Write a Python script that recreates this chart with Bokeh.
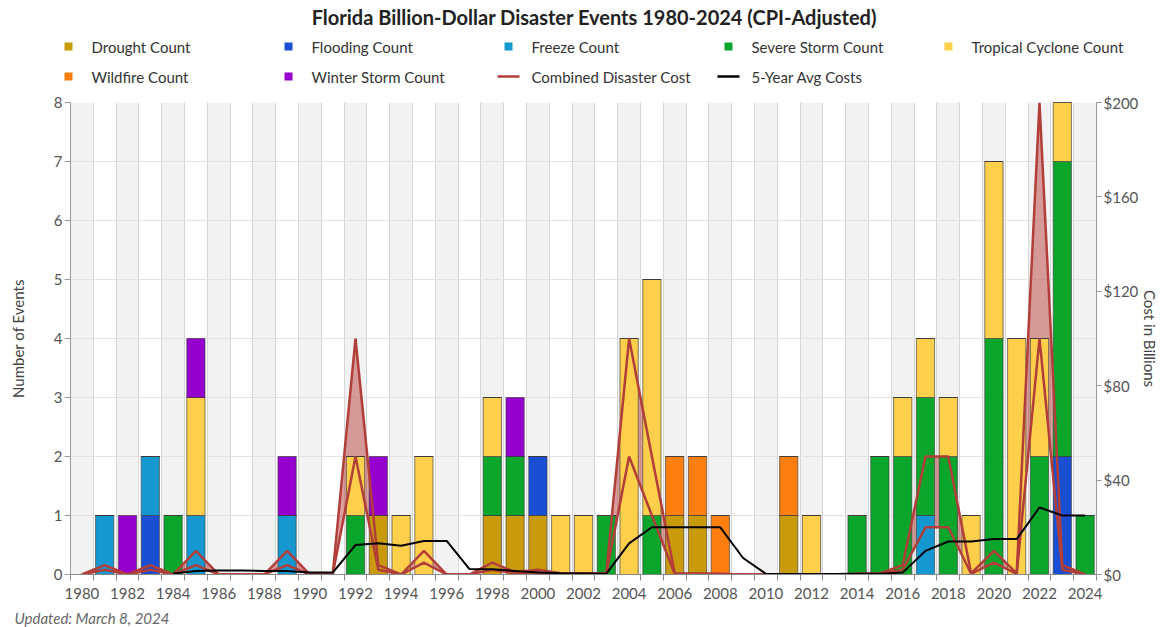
from bokeh.plotting import figure
from bokeh.layouts import column
from bokeh.models import (ColumnDataSource, FixedTicker, LinearAxis, Range1d,
                          PrintfTickFormatter)
from bokeh.core.properties import value
from bokeh.embed import file_html
from bokeh.resources import INLINE

years = list(range(1980, 2025))

drought  = [0,0,0,0,0,0,0,0,0,0, 0,0,0,1,0,0,0,0,1,1, 1,0,0,0,0,0,1,1,0,0, 0,1,0,0,0,0,0,0,0,0, 0,0,0,0,0]
flooding = [0,0,0,1,0,0,0,0,0,0, 0,0,0,0,0,0,0,0,0,0, 1,0,0,0,0,0,0,0,0,0, 0,0,0,0,0,0,0,0,0,0, 0,0,0,2,0]
freeze   = [0,1,0,1,0,1,0,0,0,1, 0,0,0,0,0,0,0,0,0,0, 0,0,0,0,0,0,0,0,0,0, 0,0,0,0,0,0,0,1,0,0, 0,0,0,0,0]
severe   = [0,0,0,0,1,0,0,0,0,0, 0,0,1,0,0,0,0,0,1,1, 0,0,0,1,0,1,0,0,0,0, 0,0,0,0,1,2,2,2,2,0, 4,0,2,5,1]
tropical = [0,0,0,0,0,2,0,0,0,0, 0,0,1,0,1,2,0,0,1,0, 0,1,1,0,4,4,0,0,0,0, 0,0,1,0,0,0,1,1,1,1, 3,4,2,1,0]
wildfire = [0,0,0,0,0,0,0,0,0,0, 0,0,0,0,0,0,0,0,0,0, 0,0,0,0,0,0,1,1,1,0, 0,1,0,0,0,0,0,0,0,0, 0,0,0,0,0]
winter   = [0,0,1,0,0,1,0,0,0,1, 0,0,0,1,0,0,0,0,0,1, 0,0,0,0,0,0,0,0,0,0, 0,0,0,0,0,0,0,0,0,0, 0,0,0,0,0]

# Combined disaster cost range (billions, CPI-adjusted): lower and upper lines
cost_low  = [0,2,0,2,0,4,0,0,0,4, 0,0,50,2,0,5,0,0,2,0.5, 1,0.3,0.3,0.3,50,25,0.3,0.2,0.2,0, 0,0,0,0,0.2,0.3,2,20,20,0.3, 5,0.3,100,2,0]
cost_high = [0,4,0,4,0,10,0,0,0,10, 0,0,100,4,0,10,0,0,5,1, 2,0.5,0.5,0.5,100,50,0.5,0.4,0.3,0, 0,0,0,0,0.3,0.5,4,50,50,0.5, 10,0.5,200,4,0]
# 5-year average costs (billions)
avg_cost  = [None,None,None,None,0.4,1.5,1.7,1.7,1.5,1.5, 0.8,0.8,12.5,13.2,12.2,14.2,14.2,2.3,2.2,1.5, 0.8,0.5,0.4,0.3,13.2,20,20,20,20,7, 0.3,0.2,0.2,0.2,0.3,0.3,0.8,10,14,14, 15,15,28.4,25,25]

series = ["Drought", "Flooding", "Freeze", "Severe Storm", "Tropical Cyclone", "Wildfire", "Winter Storm"]
colors = ["#c99a0c", "#1a4fd3", "#1597cf", "#0aa52b", "#fecf4a", "#fd7f10", "#9500cf"]
line_names = ["Combined Disaster Cost", "5-Year Avg Costs"]
line_colors = ["#b23e3a", "#000000"]

title_text = "Florida Billion-Dollar Disaster Events 1980-2024 (CPI-Adjusted)"
footnote_text = "Updated: March 8, 2024"
y_title = "Number of Events"
y2_title = "Cost in Billions"

FONT = "Lato"
W = 1163

src = ColumnDataSource(dict(
    year=years,
    Drought=drought, Flooding=flooding, Freeze=freeze,
    **{"Severe Storm": severe, "Tropical Cyclone": tropical},
    Wildfire=wildfire, **{"Winter Storm": winter},
    low=cost_low, high=cost_high,
    avg=[float("nan") if v is None else v for v in avg_cost],
))


def blank(h):
    f = figure(width=W, height=h, output_backend="svg", toolbar_location=None,
               x_range=Range1d(0, W), y_range=Range1d(h, 0),
               min_border=0, min_border_left=0, min_border_right=0, min_border_top=0, min_border_bottom=0)
    f.axis.visible = False
    f.grid.visible = False
    f.outline_line_color = None
    f.frame_align = False
    return f


# ---------------- header: title + legend ----------------
HH = 88
hdr = blank(HH)
hdr.text(x=[594], y=[16], text=[title_text], text_align="center", text_baseline="middle",
         text_font=value(FONT), text_font_style="bold", text_font_size="20px", text_color="#222222")

names = [f"{s} Count" for s in series] + line_names
cx = [68 + 220 * (i % 5) for i in range(len(names))]
cy = [46 + 30 * (i // 5) for i in range(len(names))]
nb = len(series)
hdr.scatter(x=cx[:nb], y=cy[:nb], marker="square", size=8, fill_color=colors, line_color=None)
hdr.segment(x0=[x - 11 for x in cx[nb:]], x1=[x + 11 for x in cx[nb:]], y0=cy[nb:], y1=cy[nb:],
            line_color=line_colors, line_width=2.5)
hdr.text(x=[x + 23 for x in cx], y=cy, text=names, text_align="left", text_baseline="middle",
         text_font=value(FONT), text_font_size="15px", text_color="#333333")

# ---------------- main chart ----------------
p = figure(width=W, height=609 - HH, output_backend="svg", toolbar_location=None,
           x_range=Range1d(1979.5, 2024.5), y_range=Range1d(0, 8),
           min_border_left=70, min_border_right=67, min_border_top=102 - HH, min_border_bottom=35)
p.outline_line_color = None
p.frame_align = False
p.extra_y_ranges = {"cost": Range1d(0, 200)}

even_years = [y for y in years if y % 2 == 0]
p.vbar(x=even_years, width=1, top=8, bottom=0, fill_color="#f2f2f2", line_color=None, level="image")

p.varea(x="year", y1="low", y2="high", source=src, y_range_name="cost",
        fill_color="#b8403c", fill_alpha=0.5)

p.vbar_stack(series, x="year", width=0.8, source=src, fill_color=colors,
             line_color="#3a3a3a", line_width=0.8, line_alpha=0.8)

p.line("year", "low", source=src, y_range_name="cost", line_color=line_colors[0], line_width=2.5)
p.line("year", "high", source=src, y_range_name="cost", line_color=line_colors[0], line_width=2.5)
p.line("year", "avg", source=src, y_range_name="cost", line_color=line_colors[1], line_width=2)

xt = FixedTicker(ticks=list(range(1980, 2025, 2)), minor_ticks=[y - 0.5 for y in range(1980, 2026)])
p.xaxis.ticker = xt
p.xaxis.major_tick_out = 0
p.xaxis.major_tick_in = 0
p.xaxis.minor_tick_out = 6
p.xaxis.minor_tick_in = 0
p.xaxis.major_label_standoff = 7
p.xaxis.axis_line_color = "#8a8a8a"
p.xaxis.minor_tick_line_color = "#8a8a8a"

p.yaxis.ticker = FixedTicker(ticks=list(range(0, 9)))
p.yaxis.major_tick_out = 6
p.yaxis.major_tick_in = 0
p.yaxis.minor_tick_line_color = None
p.yaxis.axis_line_color = "#9a9a9a"
p.yaxis.major_tick_line_color = "#9a9a9a"
p.yaxis.major_label_standoff = 2
p.yaxis.axis_label = y_title
p.yaxis.axis_label_standoff = 24

ax_r = LinearAxis(y_range_name="cost", ticker=FixedTicker(ticks=list(range(0, 201, 40))),
                  formatter=PrintfTickFormatter(format="$%d"))
ax_r.major_tick_out = 5
ax_r.major_tick_in = 0
ax_r.minor_tick_line_color = None
ax_r.axis_line_color = "#9a9a9a"
ax_r.major_tick_line_color = "#9a9a9a"
ax_r.major_label_standoff = 2
ax_r.axis_label = y2_title
ax_r.axis_label_standoff = 0
p.add_layout(ax_r, "right")

for ax in [p.xaxis[0], p.yaxis[0], ax_r]:
    ax.major_label_text_font = FONT
    ax.major_label_text_font_size = "15px"
    ax.major_label_text_color = "#555555"
    ax.axis_label_text_font = FONT
    ax.axis_label_text_font_size = "15px"
    ax.axis_label_text_font_style = "normal"
    ax.axis_label_text_color = "#444444"

p.xgrid.grid_line_color = None
p.xgrid.minor_grid_line_color = "#d6d6d6"
p.ygrid.grid_line_color = "#e3e3e3"

# ---------------- footer ----------------
FH = 627 - 609
ftr = blank(FH)
ftr.text(x=[14], y=[8], text=[footnote_text], text_align="left", text_baseline="middle",
         text_font=value(FONT), text_font_style="italic", text_font_size="15px", text_color="#666666")

layout = column(hdr, p, ftr, spacing=0)
open("out.html", "w").write(file_html(layout, INLINE))
